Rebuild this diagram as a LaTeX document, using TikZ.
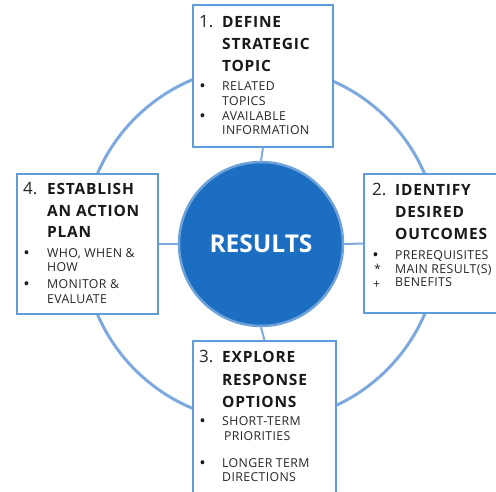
\documentclass[tikz,border=0pt]{standalone}
\usepackage{fontspec}
\setmainfont{Open Sans}
\newfontfamily\headfont[LetterSpace=5]{Open Sans}
\newfontfamily\itemfont[LetterSpace=3]{Open Sans}
\begin{document}
\begin{tikzpicture}[x=1pt,y=-1pt,
  ring/.style={draw=ringblue,line width=3pt},
  link/.style={draw=ringblue,line width=2pt},
  stepbox/.style={draw=boxblue,line width=1.5pt,fill=white,inner sep=0pt},
  num/.style={anchor=base west,inner sep=0pt,font=\fontsize{17}{17}\selectfont,text=black!85},
  head/.style={anchor=base west,inner sep=0pt,font=\headfont\fontsize{15.5}{15.5}\selectfont\bfseries,text=black!90},
  item/.style={anchor=base west,inner sep=0pt,font=\itemfont\fontsize{12.3}{12.3}\selectfont,text=black!85},
  dot/.style={anchor=base west,inner sep=0pt,font=\fontsize{13}{13}\selectfont\bfseries,text=black!90}]
\definecolor{ringblue}{HTML}{7DA9DE}
\definecolor{boxblue}{HTML}{5E9CDA}
\definecolor{coreblue}{HTML}{1B6EC2}
\definecolor{coreedge}{HTML}{6EA2DA}
\useasboundingbox (0,0) rectangle (496,492);

% outer ring
\draw[ring] (261,244) circle[radius=178];

% central hub
\node[circle,fill=coreblue,draw=coreedge,line width=2.5pt,minimum size=164pt,inner sep=0pt,
      text=white,font=\fontsize{24.5}{24.5}\selectfont\bfseries] (hub) at (261,244) {RESULTS};

% the four step boxes
\node[stepbox,minimum width=140pt,minimum height=142pt] (b1) at (263,76) {};
\node[stepbox,minimum width=134pt,minimum height=139pt] (b2) at (431,243.5) {};
\node[stepbox,minimum width=143pt,minimum height=153pt] (b3) at (264.5,417.5) {};
\node[stepbox,minimum width=141pt,minimum height=140pt] (b4) at (87.5,244) {};

% spokes
\draw[link] (b1.south) -- (hub.north);
\draw[link] (hub.south) -- (b3.north);
\draw[link] (b4.east) -- (hub.west);
\draw[link] (hub.east) -- (b2.west);

% step 1
\node[num]  (n1)  at (199,28) {1.};
\node[head] (h1a) at (222,28) {DEFINE};
\node[head] (h1b) at (222,50) {STRATEGIC};
\node[head] (h1c) at (222,72) {TOPIC};
\node[dot]  (d1a) at (200,91) {•};
\node[item] (i1a) at (222,91) {RELATED};
\node[item] (i1b) at (222,106) {TOPICS};
\node[dot]  (d1b) at (200,121) {•};
\node[item] (i1c) at (222,121) {AVAILABLE};
\node[item] (i1d) at (222,135) {INFORMATION};

% step 2
\node[num]  (n2)  at (372,196) {2.};
\node[head] (h2a) at (395,196) {IDENTIFY};
\node[head] (h2b) at (395,218) {DESIRED};
\node[head] (h2c) at (395,240) {OUTCOMES};
\node[dot]  (d2a) at (373,259) {•};
\node[item] (i2a) at (395,259) {PREREQUISITES};
\node[item] (d2b) at (374,274) {*};
\node[item] (i2b) at (395,273) {MAIN RESULT(S)};
\node[item] (d2c) at (373,288) {+};
\node[item] (i2c) at (395,287) {BENEFITS};

% step 3
\node[num]  (n3)  at (199,362) {3.};
\node[head] (h3a) at (222,362) {EXPLORE};
\node[head] (h3b) at (222,385) {RESPONSE};
\node[head] (h3c) at (222,407) {OPTIONS};
\node[dot]  (d3a) at (200,425) {•};
\node[item] (i3a) at (222,425) {SHORT-TERM};
\node[item] (i3b) at (224,440) {PRIORITIES};
\node[dot]  (d3b) at (200,467) {•};
\node[item] (i3c) at (222,467) {LONGER TERM};
\node[item] (i3d) at (222,481) {DIRECTIONS};

% step 4
\node[num]  (n4)  at (23,195) {4.};
\node[head] (h4a) at (47,195) {ESTABLISH};
\node[head] (h4b) at (47,217) {AN ACTION};
\node[head] (h4c) at (47,238) {PLAN};
\node[dot]  (d4a) at (24,258) {•};
\node[item] (i4a) at (47,258) {WHO, WHEN \&};
\node[item] (i4b) at (47,272) {HOW};
\node[dot]  (d4b) at (24,288) {•};
\node[item] (i4c) at (47,288) {MONITOR \&};
\node[item] (i4d) at (47,303) {EVALUATE};
\end{tikzpicture}
\end{document}
